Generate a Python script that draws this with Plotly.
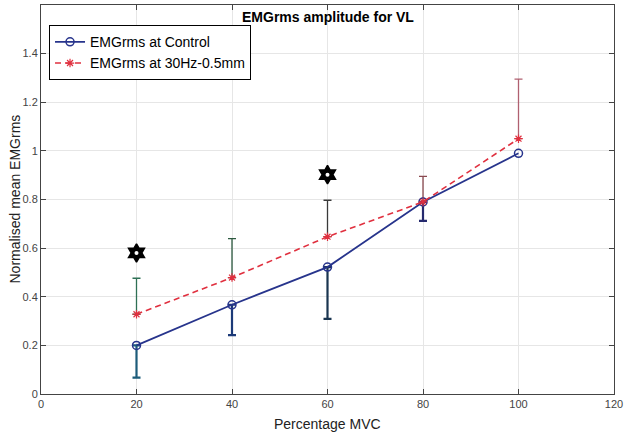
import plotly.graph_objects as go

mvc = [20, 40, 60, 80, 100]
control = [0.20, 0.367, 0.522, 0.79, 0.99]
control_err_minus = [0.133, 0.125, 0.213, 0.078, 0.0]
hz30 = [0.328, 0.479, 0.647, 0.79, 1.05]
hz30_err_plus = [0.148, 0.16, 0.15, 0.105, 0.245]
star_x = [20, 60]
star_y = [0.58, 0.902]

control_err_colors = ["#1d5c7a", "#1c3a78", "#1a3550", "#262a6e", "#262a6e"]
hz30_err_colors = ["#2e7055", "#2d5a40", "#3a3a3a", "#8a4a50", "#b06070"]

FONT = "Liberation Sans, Arial, sans-serif"

fig = go.Figure()

for i, xv in enumerate(mvc):
    fig.add_trace(go.Scatter(
        x=[xv], y=[hz30[i]], mode="markers", marker=dict(opacity=0, size=1),
        error_y=dict(type="data", symmetric=False, array=[hz30_err_plus[i]], arrayminus=[0],
                     color=hz30_err_colors[i], thickness=1.3, width=4),
        showlegend=False, hoverinfo="skip"))
    if control_err_minus[i] > 0:
        fig.add_trace(go.Scatter(
            x=[xv], y=[control[i]], mode="markers", marker=dict(opacity=0, size=1),
            error_y=dict(type="data", symmetric=False, array=[0], arrayminus=[control_err_minus[i]],
                         color=control_err_colors[i], thickness=2.2, width=4),
            showlegend=False, hoverinfo="skip"))

fig.add_trace(go.Scatter(
    x=mvc, y=control, mode="lines+markers", name="EMGrms at Control",
    line=dict(color="#27348c", width=1.8),
    marker=dict(symbol="circle-open", size=8, color="#27348c", line=dict(width=1.5))))

fig.add_trace(go.Scatter(
    x=mvc, y=hz30, mode="lines+markers", name="EMGrms at 30Hz-0.5mm",
    line=dict(color="#e0303f", width=1.6, dash="6px,4px"),
    marker=dict(symbol="asterisk-open", size=7, color="#e0303f", line=dict(width=1.2, color="#e0303f"))))

fig.add_trace(go.Scatter(
    x=star_x, y=star_y, mode="markers",
    marker=dict(symbol="hexagram", size=14, color="black", line=dict(width=1.5, color="black")),
    showlegend=False, hoverinfo="skip"))
fig.add_trace(go.Scatter(
    x=star_x, y=star_y, mode="markers",
    marker=dict(symbol="circle", size=4, color="white", line=dict(width=0)),
    showlegend=False, hoverinfo="skip"))

axis_common = dict(
    showline=True, linecolor="#444444", linewidth=1, mirror="ticks",
    ticks="inside", ticklen=5, tickcolor="#444444",
    showgrid=True, gridcolor="#e6e6e6", gridwidth=1, zeroline=False,
    tickfont=dict(family=FONT, size=11, color="#444444"),
    automargin=False,
)

fig.update_layout(
    width=625, height=434,
    margin=dict(l=41, r=11, t=5, b=40),
    paper_bgcolor="white", plot_bgcolor="white",
    font=dict(family=FONT, color="#222222"),
    xaxis=dict(range=[0, 120], tickvals=[0, 20, 40, 60, 80, 100, 120], **axis_common),
    yaxis=dict(range=[0, 1.6], tickvals=[0, 0.2, 0.4, 0.6, 0.8, 1, 1.2, 1.4, 1.6],
               ticktext=["0", "0.2", "0.4", "0.6", "0.8", "1", "1.2", "1.4", "1.6"],
               **axis_common),
    legend=dict(x=0.014, y=0.948, xanchor="left", yanchor="top",
                bgcolor="white", bordercolor="black", borderwidth=1,
                font=dict(family=FONT, size=14, color="black"),
                itemwidth=30, tracegroupgap=0),
    showlegend=True,
    annotations=[
        dict(text="<b>EMGrms amplitude for VL</b>", xref="paper", yref="paper",
             x=0.5, y=1, yshift=-12, xanchor="center", yanchor="middle", showarrow=False,
             font=dict(family=FONT, size=14, color="black")),
        dict(text="Percentage MVC", xref="paper", yref="paper",
             x=0.5, y=0, yshift=-20, xanchor="center", yanchor="top", showarrow=False,
             font=dict(family=FONT, size=14, color="#222222")),
        dict(text="Normalised mean EMGrms", xref="paper", yref="paper",
             x=0, xshift=-27, y=0.5, xanchor="center", yanchor="middle", textangle=-90,
             showarrow=False, font=dict(family=FONT, size=14, color="#222222")),
    ],
)

fig.write_html("out.html", config={"displayModeBar": False},
               post_script="document.body.style.margin='0';document.body.style.overflow='hidden';")
